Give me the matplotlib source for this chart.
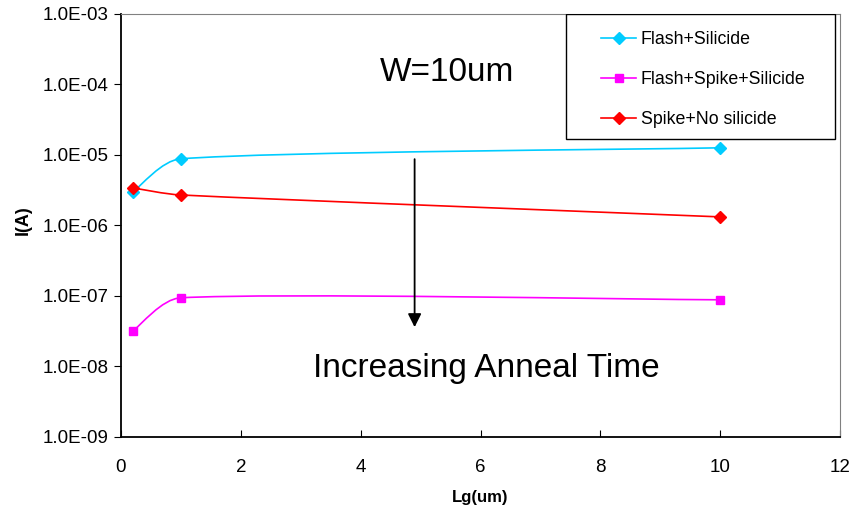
import numpy as np
import matplotlib.pyplot as plt
from matplotlib.path import Path
from matplotlib.patches import PathPatch, Rectangle
from matplotlib.lines import Line2D

plt.rcParams['font.family'] = ['Liberation Sans', 'DejaVu Sans']

# gate length (um) and drain current (A) for each process split
lg = [0.2, 1, 10]
flash_sil = [3.0e-6, 8.8e-6, 1.26e-5]
flash_spike_sil = [3.2e-8, 9.4e-8, 8.8e-8]
spike_nosil = [3.4e-6, 2.7e-6, 1.32e-6]

labels = ['Flash+Silicide', 'Flash+Spike+Silicide', 'Spike+No silicide']
colors = ['#00CCFF', '#FF00FF', '#FF0000']
markers = ['D', 's', 'D']


def smooth_path(x, y):
    # catmull-rom style bezier through the points, handles capped at a third of the segment
    # (worked out in x / log10(y) space so the curve follows the log axis)
    p = np.column_stack([np.asarray(x, float), np.log10(y)])
    scale = np.array([1 / 60.0, 1 / 70.5])  # data units per screen pixel
    n = len(p)
    tang = []
    for i in range(n):
        a = p[max(i - 1, 0)]
        b = p[min(i + 1, n - 1)]
        tang.append((b - a) / scale / 6)
    verts = [p[0]]
    codes = [Path.MOVETO]
    for i in range(n - 1):
        seg = np.linalg.norm((p[i + 1] - p[i]) / scale) / 3
        h1, h2 = tang[i], tang[i + 1]
        if np.linalg.norm(h1) > seg:
            h1 = h1 / np.linalg.norm(h1) * seg
        if np.linalg.norm(h2) > seg:
            h2 = h2 / np.linalg.norm(h2) * seg
        c1 = p[i] + h1 * scale
        c2 = p[i + 1] - h2 * scale
        verts += [c1, c2, p[i + 1]]
        codes += [Path.CURVE4] * 3
    verts = np.array(verts)
    verts[:, 1] = 10 ** verts[:, 1]
    return Path(verts, codes)


fig = plt.figure(figsize=(8.52, 5.14), dpi=100)
ax = fig.add_axes([0.142, 0.150, 0.844, 0.823])

handles = []
for ys, lab, c, m in zip([flash_sil, flash_spike_sil, spike_nosil], labels, colors, markers):
    ax.add_patch(PathPatch(smooth_path(lg, ys), facecolor='none', edgecolor=c, lw=1.2))
    ms = 6 if m == 's' else 6.5
    ax.plot(lg, ys, ls='none', marker=m, color=c, ms=ms, zorder=3)
    handles.append(Line2D([], [], color=c, marker=m, ms=ms, lw=1.2, label=lab))

ax.set_yscale('log')
ax.set_xlim(0, 12)
ax.set_ylim(1e-9, 1e-3)
ax.set_xticks(range(0, 13, 2))
ax.set_yticks([10.0 ** k for k in range(-9, -2)])
ax.set_yticklabels(['1.0E-%02d' % k for k in range(9, 2, -1)])
ax.minorticks_off()
ax.tick_params(axis='y', direction='out', length=5, labelsize=13.5, pad=4)
ax.tick_params(axis='x', direction='in', length=5, labelsize=13.5, pad=16)

for side in ['top', 'right']:
    ax.spines[side].set_color('#808080')
for side in ['left', 'bottom']:
    ax.spines[side].set_color('black')
    ax.spines[side].set_linewidth(1.3)

ax.set_xlabel('Lg(um)', fontsize=12, fontweight='bold', labelpad=10)
ax.set_ylabel('I(A)', fontsize=13, fontweight='bold')
ax.yaxis.set_label_coords(-0.124, 0.513)

ax.text(4.32, 1.1e-4, 'W=10um', fontsize=24)
ax.text(3.2, 7.1e-9, 'Increasing Anneal Time', fontsize=24)
ax.annotate('', xy=(4.9, 3.6e-8), xytext=(4.9, 8.7e-6),
            arrowprops=dict(arrowstyle='-|>', color='black', lw=1.3, mutation_scale=20,
                            shrinkA=0, shrinkB=0))

# legend box drawn separately so its padding can be set freely
ax.add_patch(Rectangle((0.619, 0.7045), 0.374, 0.2955, transform=ax.transAxes,
                       facecolor='white', edgecolor='black', lw=1.0, zorder=4))
leg = ax.legend(handles=handles, loc='upper left', bbox_to_anchor=(0.6676, 0.960),
                borderaxespad=0, borderpad=0, fontsize=12.75, frameon=False,
                labelspacing=1.3, handlelength=2.0, handletextpad=0.25)
leg.set_zorder(5)

fig.savefig('out.png', dpi=100)
